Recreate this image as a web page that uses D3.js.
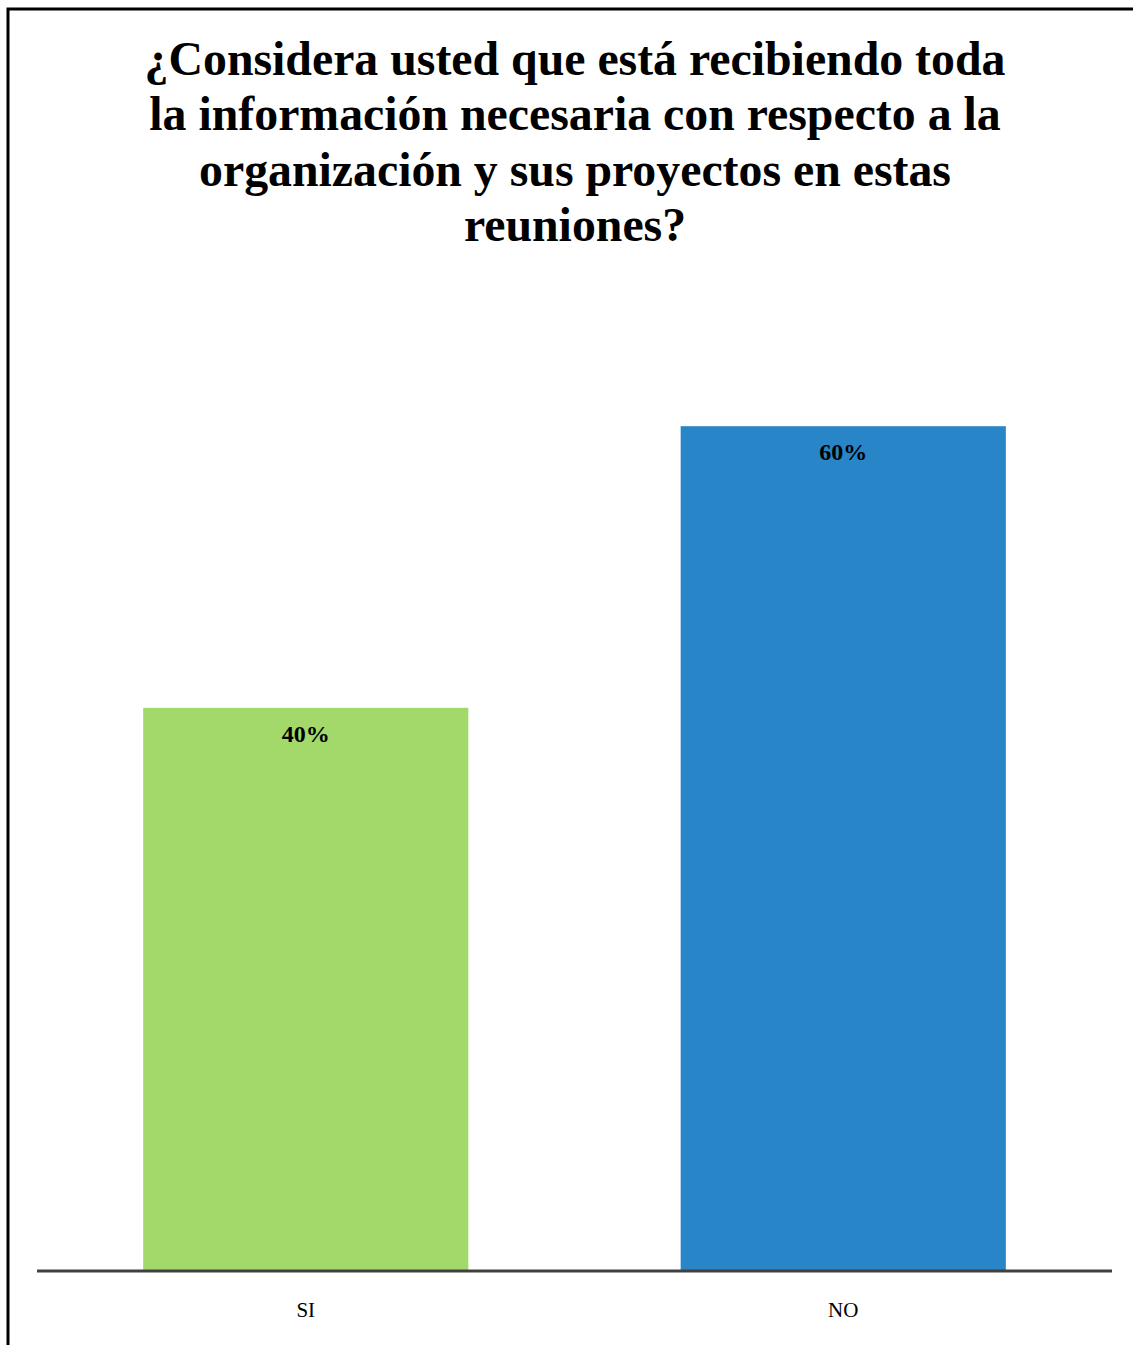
<!DOCTYPE html>
<html>
<head>
<meta charset="utf-8">
<script src="https://cdn.jsdelivr.net/npm/d3@7"></script>
<style>
  html, body { margin: 0; padding: 0; background: #ffffff; }
  svg { display: block; }
</style>
</head>
<body>
<svg id="chart" width="1133" height="1345"></svg>
<script>
const categories = ["SI", "NO"];
const values = [0.40, 0.60];
const labels = ["40%", "60%"];
const colors = ["#A3D86B", "#2785C8"];
const titleLines = [
  "¿Considera usted que está recibiendo toda",
  "la información necesaria con respecto a la",
  "organización y sus proyectos en estas",
  "reuniones?"
];

const FONT = "'Times New Roman', Times, 'Liberation Serif', Tinos, serif";
const svg = d3.select("#chart");

svg.append("rect")
  .attr("x", 8).attr("y", 9)
  .attr("width", 1140).attr("height", 1360)
  .attr("fill", "#fff")
  .attr("stroke", "#000").attr("stroke-width", 3);

const title = svg.append("text")
  .attr("text-anchor", "middle")
  .attr("font-family", FONT)
  .attr("font-weight", "bold")
  .attr("font-size", 47.8)
  .attr("fill", "#000");
titleLines.forEach((t, i) => {
  title.append("tspan").attr("x", 575).attr("y", 75 + i * 55.3).text(t);
});

const plotLeft = 37, plotRight = 1112, baseY = 1271;
const x = d3.scaleBand().domain(categories).range([plotLeft, plotRight]).paddingInner(0.395).paddingOuter(0.1975);
const y = d3.scaleLinear().domain([0, 0.7]).range([baseY, baseY - 0.7 * 14.08 * 100]);

const data = categories.map((c, i) => ({ c, v: values[i], l: labels[i], col: colors[i] }));

svg.selectAll("rect.bar").data(data).enter().append("rect")
  .attr("class", "bar")
  .attr("x", d => x(d.c))
  .attr("y", d => y(d.v))
  .attr("width", x.bandwidth())
  .attr("height", d => y(0) - y(d.v))
  .attr("fill", d => d.col);

svg.selectAll("text.val").data(data).enter().append("text")
  .attr("class", "val")
  .attr("x", d => x(d.c) + x.bandwidth() / 2)
  .attr("y", d => y(d.v) + 34)
  .attr("text-anchor", "middle")
  .attr("font-family", FONT)
  .attr("font-weight", "bold")
  .attr("font-size", 24)
  .attr("fill", "#000")
  .text(d => d.l);

const xAxis = d3.axisBottom(x).tickSize(0).tickPadding(0);
const ax = svg.append("g").attr("transform", `translate(0,${baseY})`).call(xAxis);
ax.select(".domain").attr("stroke", "#404040").attr("stroke-width", 3)
  .attr("d", `M${plotLeft},0H${plotRight}`);
ax.selectAll(".tick text")
  .attr("y", 46)
  .attr("dy", 0)
  .attr("font-family", FONT)
  .attr("font-size", 21)
  .attr("fill", "#000");
</script>
</body>
</html>
